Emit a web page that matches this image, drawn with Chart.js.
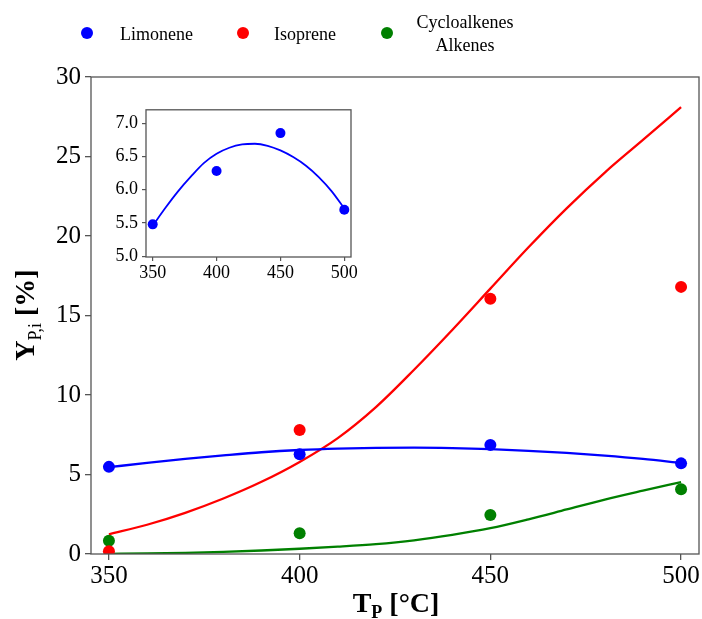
<!DOCTYPE html>
<html><head><meta charset="utf-8">
<script src="https://cdn.jsdelivr.net/npm/chart.js@4/dist/chart.umd.min.js"></script>
<style>
html,body{margin:0;padding:0;background:#fff;}
#wrap{position:relative;width:702px;height:619px;overflow:hidden;font-family:'Liberation Serif','Times New Roman',serif;}
#main{position:absolute;left:0;top:0;}
#inset{position:absolute;left:100px;top:95px;}
.leg{position:absolute;font-size:18px;line-height:23px;color:#000;white-space:nowrap;}
.dot{position:absolute;width:12px;height:12px;border-radius:50%;}
</style></head>
<body><div id="wrap">
<canvas id="main" width="702" height="619"></canvas>
<canvas id="inset" width="260" height="190"></canvas>
<div id="legend"></div>
</div>
<script>
// ---- data ----
const temps = [350, 400, 450, 500];
const limonene = [5.48, 6.28, 6.85, 5.70];
const isoprene = [0.18, 7.8, 16.05, 16.8];
const cycloalkenes = [0.84, 1.3, 2.45, 4.07];

const fitTemps = [350, 360, 370, 380, 390, 400, 410, 420, 430, 440, 450, 460, 470, 480, 490, 500];
const limoneneFit = [5.46, 5.73, 5.98, 6.20, 6.40, 6.54, 6.63, 6.68, 6.69, 6.66, 6.59, 6.49, 6.36, 6.19, 5.98, 5.72];
const isopreneFit = [1.24, 1.84, 2.59, 3.49, 4.54, 5.79, 7.29, 9.24, 11.59, 14.09, 16.69, 19.29, 21.74, 23.99, 26.04, 28.1];
const cycloFit = [0.01, 0.03, 0.07, 0.13, 0.22, 0.33, 0.46, 0.62, 0.86, 1.2, 1.62, 2.18, 2.8, 3.42, 3.98, 4.52];

const xTicks = [350, 400, 450, 500];
const yTicks = [0, 5, 10, 15, 20, 25, 30];
const insetYTicks = [5.0, 5.5, 6.0, 6.5, 7.0];

const seriesNames = [['Limonene'], ['Isoprene'], ['Cycloalkenes', 'Alkenes']];
const seriesColors = ['#0000ff', '#ff0000', '#008000'];

const FONT = "'Liberation Serif', 'Times New Roman', serif";

// ---- legend (HTML text) ----
(function(){
  const leg = document.getElementById('legend');
  const dotX = [87, 243, 387];
  const textPos = [{left:120}, {left:274}, {center:465}];
  seriesNames.forEach((lines, i) => {
    const d = document.createElement('div');
    d.className = 'dot';
    d.style.background = seriesColors[i];
    d.style.left = (dotX[i] - 6) + 'px';
    d.style.top = (33 - 6) + 'px';
    leg.appendChild(d);
    const t = document.createElement('div');
    t.className = 'leg';
    t.innerHTML = lines.join('<br>');
    const top = 34 - 11.5 * lines.length;
    t.style.top = top + 'px';
    if (textPos[i].left !== undefined) {
      t.style.left = textPos[i].left + 'px';
    } else {
      t.style.left = (textPos[i].center - 60) + 'px';
      t.style.width = '120px';
      t.style.textAlign = 'center';
    }
    leg.appendChild(t);
  });
})();

const pts = (xs, ys) => xs.map((x, i) => ({x: x, y: ys[i]}));

const framePlugin = {
  id: 'frame',
  beforeDraw(chart) {
    const c = chart.ctx;
    c.save();
    c.fillStyle = '#fff';
    c.fillRect(0, 0, chart.width, chart.height);
    c.restore();
  },
  afterDraw(chart) {
    const c = chart.ctx, a = chart.chartArea;
    c.save();
    c.strokeStyle = '#555';
    c.lineWidth = 1.3;
    c.strokeRect(a.left, a.top, a.right - a.left, a.bottom - a.top);
    c.restore();
  }
};

function drawParts(c, parts, x, y) {
  let total = 0;
  parts.forEach(p => { c.font = p.font; p.w = c.measureText(p.t).width; total += p.w; });
  let cx = x - total / 2;
  parts.forEach(p => {
    c.font = p.font;
    c.fillText(p.t, cx, y + p.dy);
    cx += p.w;
  });
}

const titlePlugin = {
  id: 'titles',
  afterDraw(chart) {
    const c = chart.ctx;
    c.save();
    c.fillStyle = '#000';
    c.textBaseline = 'alphabetic';
    c.textAlign = 'left';
    drawParts(c, [
      {t: 'T', font: 'bold 28px ' + FONT, dy: 0},
      {t: 'P', font: 'bold 18px ' + FONT, dy: 6},
      {t: ' [°C]', font: 'bold 28px ' + FONT, dy: 0}
    ], 396, 612);
    c.translate(34, 315);
    c.rotate(-Math.PI / 2);
    drawParts(c, [
      {t: 'Y', font: 'bold 28px ' + FONT, dy: 0},
      {t: 'P,i', font: '18px ' + FONT, dy: 7},
      {t: ' [%]', font: 'bold 28px ' + FONT, dy: 0}
    ], 0, 0);
    c.restore();
  }
};

function curve(label, xs, ys, color, w) {
  return {label: label, data: pts(xs, ys), showLine: true, borderColor: color, borderWidth: w,
          pointRadius: 0, pointHoverRadius: 0, tension: 0.4, cubicInterpolationMode: 'monotone', order: 2};
}
function dots(label, xs, ys, color, r) {
  return {label: label, data: pts(xs, ys), showLine: false, backgroundColor: color, borderColor: color,
          borderWidth: 0, pointRadius: r, order: 1};
}

new Chart(document.getElementById('main'), {
  type: 'scatter',
  data: {
    datasets: [
      curve('Limonene fit', fitTemps, limoneneFit, seriesColors[0], 2.3),
      curve('Isoprene fit', fitTemps, isopreneFit, seriesColors[1], 2.3),
      curve('Cycloalkenes fit', fitTemps, cycloFit, seriesColors[2], 2.3),
      dots(seriesNames[0].join(' '), temps, limonene, seriesColors[0], 6),
      dots(seriesNames[1].join(' '), temps, isoprene, seriesColors[1], 6),
      dots(seriesNames[2].join(' '), temps, cycloalkenes, seriesColors[2], 6)
    ]
  },
  options: {
    responsive: false, animation: false, devicePixelRatio: 1,
    layout: {autoPadding: false, padding: {left: 0, top: 77, right: 3, bottom: 0}},
    plugins: {legend: {display: false}, tooltip: {enabled: false}},
    scales: {
      x: {
        type: 'linear', min: 345.3, max: 504.7,
        afterBuildTicks: s => { s.ticks = xTicks.map(v => ({value: v})); },
        afterFit: s => { s.height = 65; },
        border: {display: false},
        grid: {drawOnChartArea: false, drawTicks: true, tickLength: 6, color: '#555', lineWidth: 1.3},
        ticks: {color: '#000', font: {family: FONT, size: 25}, padding: 1, maxRotation: 0, callback: v => String(v)}
      },
      y: {
        type: 'linear', min: 0, max: 30,
        afterBuildTicks: s => { s.ticks = yTicks.map(v => ({value: v})); },
        afterFit: s => { s.width = 91; },
        border: {display: false},
        grid: {drawOnChartArea: false, drawTicks: true, tickLength: 6, color: '#555', lineWidth: 1.3},
        ticks: {color: '#000', font: {family: FONT, size: 25}, padding: 4, callback: v => String(v)}
      }
    }
  },
  plugins: [framePlugin, titlePlugin]
});

new Chart(document.getElementById('inset'), {
  type: 'scatter',
  data: {
    datasets: [
      curve('Limonene fit', fitTemps, limoneneFit, seriesColors[0], 1.8),
      dots('Limonene', temps, limonene, seriesColors[0], 5)
    ]
  },
  options: {
    responsive: false, animation: false, devicePixelRatio: 1,
    layout: {autoPadding: false, padding: {left: 0, top: 8, right: 9, bottom: 0}},
    plugins: {legend: {display: false}, tooltip: {enabled: false}},
    scales: {
      x: {
        type: 'linear', min: 344.75, max: 505.25,
        afterBuildTicks: s => { s.ticks = xTicks.map(v => ({value: v})); },
        afterFit: s => { s.height = 28; },
        border: {display: false},
        grid: {drawOnChartArea: false, drawTicks: true, tickLength: 4, color: '#555', lineWidth: 1.2},
        ticks: {color: '#000', font: {family: FONT, size: 18}, padding: 1, maxRotation: 0, callback: v => String(v)}
      },
      y: {
        type: 'linear', min: 4.99, max: 7.2,
        afterBuildTicks: s => { s.ticks = insetYTicks.map(v => ({value: v})); },
        afterFit: s => { s.width = 46; },
        border: {display: false},
        grid: {drawOnChartArea: false, drawTicks: true, tickLength: 4, color: '#555', lineWidth: 1.2},
        ticks: {color: '#000', font: {family: FONT, size: 18}, padding: 4, callback: v => Number(v).toFixed(1)}
      }
    }
  },
  plugins: [framePlugin]
});
</script>
</body></html>
